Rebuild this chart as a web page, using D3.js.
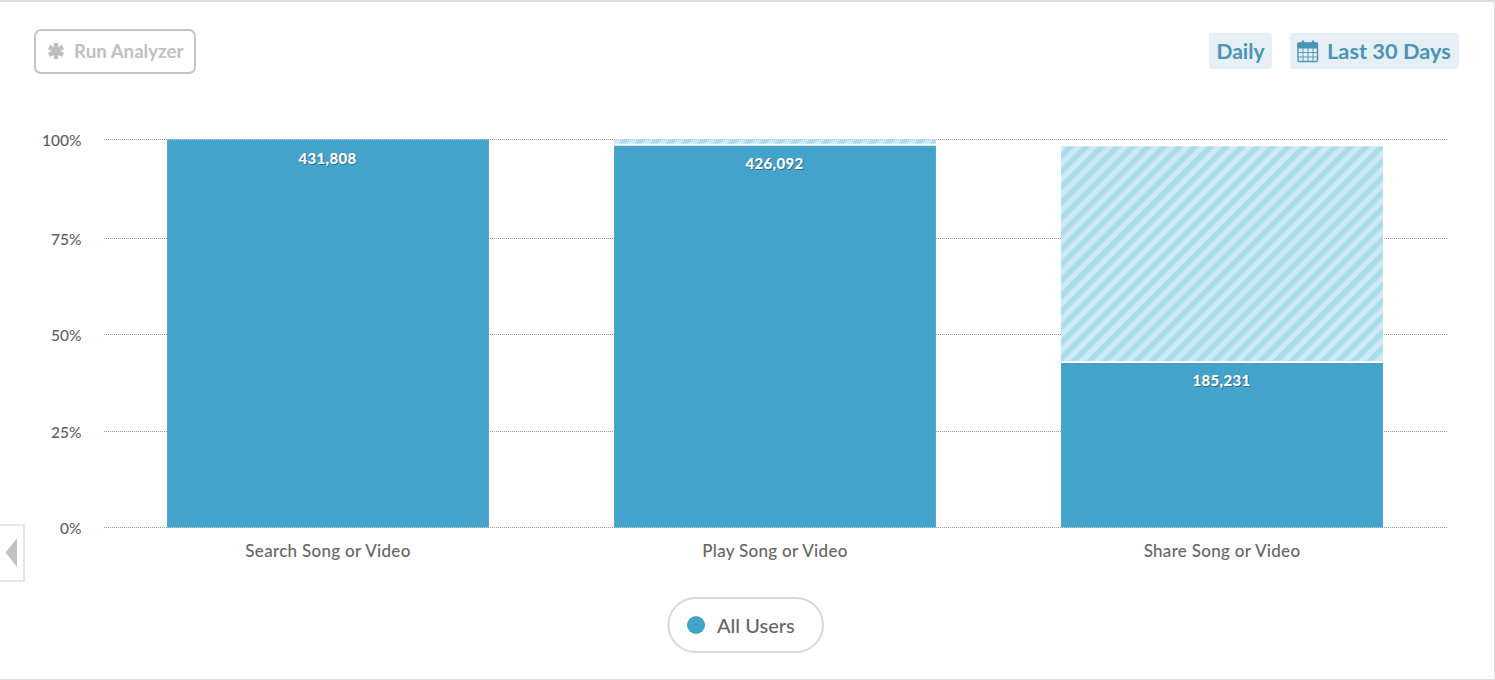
<!DOCTYPE html>
<html>
<head>
<meta charset="utf-8">
<script src="https://cdn.jsdelivr.net/npm/d3@7/dist/d3.min.js"></script>
<style>
html,body{margin:0;padding:0;background:#fff;overflow:hidden}
svg{display:block}
text{font-family:Lato,"Open Sans",sans-serif}
</style>
</head>
<body>
<svg id="c" width="1495" height="680"></svg>
<script>
const categories = ["Search Song or Video", "Play Song or Video", "Share Song or Video"];
const counts = [431808, 426092, 185231];
const percentTicks = [0, 25, 50, 75, 100];
const legendLabels = ["All Users"];
const buttonLabels = ["Run Analyzer", "Daily", "Last 30 Days"];

const BLUE = "#44a3cb";
const svg = d3.select("#c");
const defs = svg.append("defs");
const pat = defs.append("pattern").attr("id","hatch").attr("patternUnits","userSpaceOnUse")
  .attr("width",11).attr("height",11).attr("patternTransform","rotate(45)");
pat.append("rect").attr("width",11).attr("height",11).attr("fill","#cce9f5");
pat.append("rect").attr("x",0).attr("width",5.5).attr("height",11).attr("fill","#a8dde9");

// frame
svg.append("rect").attr("x",0).attr("y",0).attr("width",1495).attr("height",2).attr("fill","#dcdcdc");
svg.append("rect").attr("x",1494).attr("y",0).attr("width",1).attr("height",680).attr("fill","#e0e0e0");
svg.append("rect").attr("x",0).attr("y",679).attr("width",1495).attr("height",1).attr("fill","#dcdcdc");

const x = d3.scaleBand().domain(categories).range([104.5,1445.5]).paddingInner(0.28).paddingOuter(0.14);
const y = d3.scaleLinear().domain(percentTicks).range([527.5,431.5,334.5,238.5,139.5]);
const pct = counts.map(c => c / counts[0] * 100);

// grid
const grid = svg.append("g");
grid.selectAll("line").data(percentTicks).join("line")
  .attr("x1",104).attr("x2",1447)
  .attr("y1",d=>y(d)).attr("y2",d=>y(d))
  .attr("stroke","#9a9a9a").attr("stroke-width",1).attr("stroke-dasharray","1 1");
const yAxis = svg.append("g");
yAxis.selectAll("text").data(percentTicks).join("text")
  .attr("x",81.5).attr("y",d=>y(d)+6).attr("text-anchor","end")
  .attr("font-size",15.5).attr("font-weight",500).attr("fill","#5f5f5f").text(d=>d+"%");

// hatched drop-off part: from this step's value up to the previous step's value
const bars = svg.append("g");
const hatchTop = i => y(i===0?pct[0]:pct[i-1]) + (i===2?1.5:0);
bars.selectAll("rect.h").data(categories).join("rect").attr("class","h")
  .attr("x",d=>x(d)).attr("width",x.bandwidth())
  .attr("y",(d,i)=>hatchTop(i))
  .attr("height",(d,i)=> Math.max(0, y(pct[i]) - hatchTop(i)))
  .attr("fill","url(#hatch)");
bars.selectAll("rect.b").data(categories).join("rect").attr("class","b")
  .attr("x",d=>x(d)).attr("width",x.bandwidth())
  .attr("y",(d,i)=>y(pct[i]))
  .attr("height",(d,i)=>y(0)-y(pct[i]))
  .attr("fill",BLUE);
bars.selectAll("line.s").data(categories.slice(1)).join("line").attr("class","s")
  .attr("x1",d=>x(d)).attr("x2",d=>x(d)+x.bandwidth())
  .attr("y1",d=>y(pct[categories.indexOf(d)])).attr("y2",d=>y(pct[categories.indexOf(d)]))
  .attr("stroke","#fff").attr("stroke-width",2);

// value labels
const fmt = d3.format(",");
const labels = svg.append("g");
[[1,1,"#2c6f8e"],[0,0,"#fff"]].forEach(([dx,dy,col])=>{
  labels.append("g").selectAll("text").data(categories).join("text")
    .attr("x",d=>x(d)+x.bandwidth()/2+dx-0.5)
    .attr("y",(d,i)=>y(pct[i])+24+dy)
    .attr("text-anchor","middle").attr("font-size",15).attr("font-weight",900)
    .attr("letter-spacing",0.3).attr("fill",col)
    .text((d,i)=>fmt(counts[i]));
});

// x labels
svg.append("g").selectAll("text").data(categories).join("text")
  .attr("x",d=>x(d)+x.bandwidth()/2).attr("y",557)
  .attr("text-anchor","middle").attr("font-size",17).attr("font-weight",500).attr("letter-spacing",0.3).attr("fill","#666")
  .text(d=>d);

// Run Analyzer button
svg.append("rect").attr("x",35).attr("y",30).attr("width",160).attr("height",43).attr("rx",6)
  .attr("fill","#fff").attr("stroke","#c4c4c4").attr("stroke-width",2);
const star = svg.append("g").attr("transform","translate(56,51)");
star.selectAll("line").data(d3.range(3)).join("line")
  .attr("y1",-8).attr("y2",8).attr("transform",d=>`rotate(${d*60})`)
  .attr("stroke","#c0c0c0").attr("stroke-width",4.5);
svg.append("text").attr("x",74).attr("y",58).attr("font-size",18.7).attr("font-weight",700)
  .attr("fill","#c0c0c0").text(buttonLabels[0]);

// Top-right buttons
svg.append("rect").attr("x",1209).attr("y",33).attr("width",63).attr("height",36).attr("rx",3).attr("fill","#e6eff5");
svg.append("text").attr("x",1240.5).attr("y",59).attr("text-anchor","middle").attr("font-size",21).attr("font-weight",700)
  .attr("fill","#4a94b6").text(buttonLabels[1]);
svg.append("rect").attr("x",1290).attr("y",33).attr("width",169).attr("height",36).attr("rx",3).attr("fill","#e6eff5");
svg.append("text").attr("x",1327).attr("y",59).attr("font-size",21.8).attr("font-weight",700)
  .attr("fill","#4a94b6").text(buttonLabels[2]);
const cal = svg.append("g").attr("stroke","#4a94b6").attr("fill","none");
cal.append("rect").attr("x",1298).attr("y",43).attr("width",19.5).attr("height",18.5).attr("rx",1.5).attr("stroke-width",1.4);
cal.append("rect").attr("x",1298).attr("y",43).attr("width",19.5).attr("height",5).attr("fill","#4a94b6").attr("stroke-width",1);
[1303,1313].forEach(v=>cal.append("line").attr("x1",v).attr("x2",v).attr("y1",40.5).attr("y2",45).attr("stroke-width",2.4));
[1303,1308,1313].forEach(v=>cal.append("line").attr("x1",v).attr("x2",v).attr("y1",48).attr("y2",61.5).attr("stroke-width",0.9));
[52.5,57].forEach(v=>cal.append("line").attr("x1",1298).attr("x2",1317.5).attr("y1",v).attr("y2",v).attr("stroke-width",0.9));

// left handle
svg.append("path").attr("d","M0,525 H24 V581 H0").attr("fill","#fff").attr("stroke","#dedede").attr("stroke-width",1.5);
svg.append("path").attr("d","M17,538 V567 L5.5,552.5 Z").attr("fill","#bfc3c3");

// legend
svg.append("rect").attr("x",668.5).attr("y",598).attr("width",154.5).attr("height",54).attr("rx",27)
  .attr("fill","#fff").attr("stroke","#d8d8d8").attr("stroke-width",2);
svg.append("circle").attr("cx",696).attr("cy",625).attr("r",9).attr("fill",BLUE);
svg.append("text").attr("x",717).attr("y",633).attr("font-size",20).attr("font-weight",500).attr("fill","#666").text(legendLabels[0]);
</script>
</body>
</html>
